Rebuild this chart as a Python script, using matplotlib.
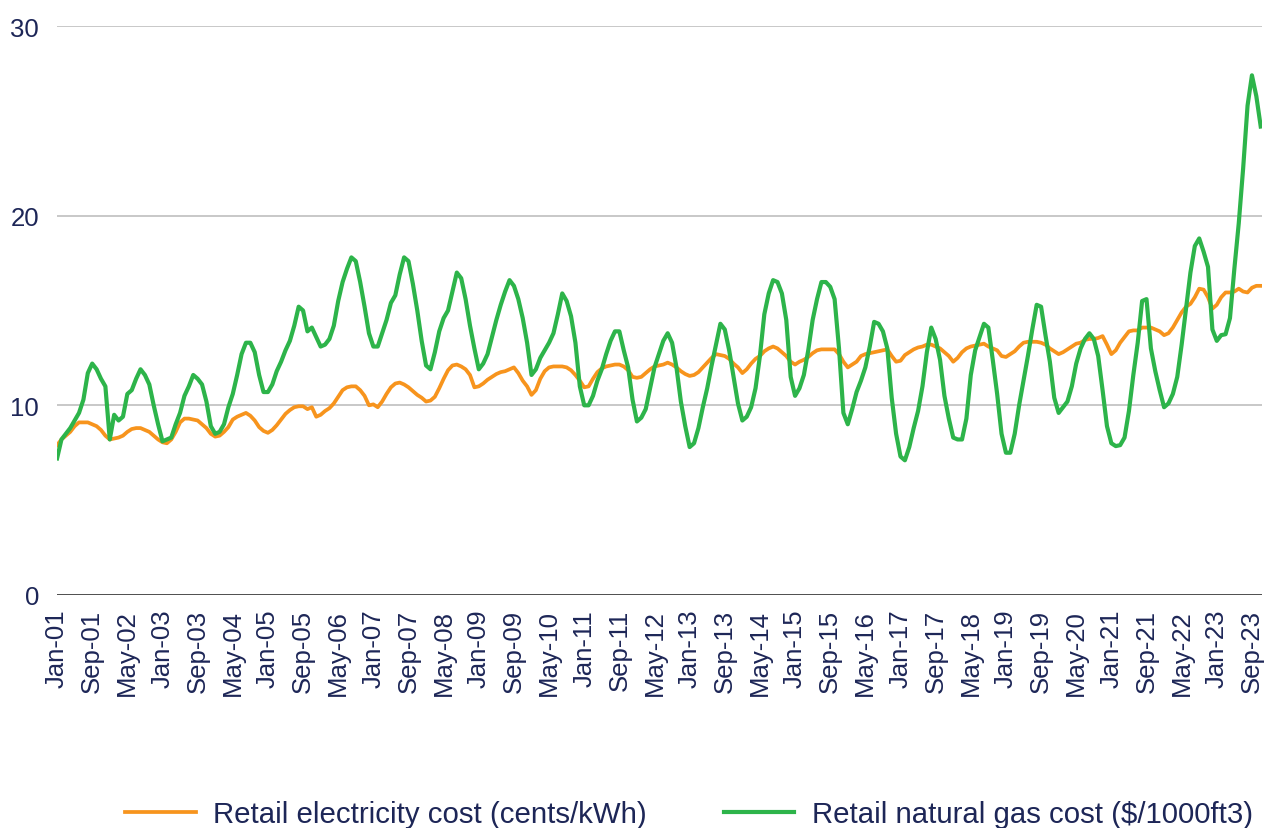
import numpy as np
import matplotlib
matplotlib.use("Agg")
import matplotlib.pyplot as plt

plt.rcParams['font.family'] = ['Liberation Sans', 'DejaVu Sans']

# Monthly values, Jan-01 .. Nov-23
electricity = [
    7.9, 8.2, 8.4, 8.6, 8.9, 9.1, 9.1, 9.1, 9.0, 8.9, 8.7, 8.4, 8.2, 8.25, 8.3, 8.4, 8.6, 8.75, 8.8, 8.8,
    8.7, 8.6, 8.4, 8.2, 8.05, 8.0, 8.2, 8.6, 9.1, 9.3, 9.3, 9.25, 9.2, 9.0, 8.8, 8.5, 8.35, 8.4, 8.6, 8.85,
    9.25, 9.4, 9.5, 9.6, 9.45, 9.2, 8.85, 8.65, 8.55, 8.7, 8.95, 9.25, 9.55, 9.75, 9.9, 9.95, 9.95, 9.8, 9.9, 9.4,
    9.5, 9.7, 9.85, 10.1, 10.45, 10.8, 10.95, 11.0, 11.0, 10.8, 10.5, 10.0, 10.05, 9.9, 10.2, 10.6, 10.95, 11.15, 11.2, 11.1,
    10.95, 10.75, 10.55, 10.4, 10.2, 10.25, 10.45, 10.9, 11.4, 11.85, 12.1, 12.15, 12.05, 11.9, 11.6, 10.95, 11.0, 11.15, 11.35, 11.5,
    11.65, 11.75, 11.8, 11.9, 12.0, 11.7, 11.3, 11.0, 10.55, 10.8, 11.4, 11.8, 12.0, 12.05, 12.05, 12.05, 12.0, 11.85, 11.6, 11.3,
    10.95, 11.0, 11.4, 11.75, 11.95, 12.05, 12.1, 12.15, 12.15, 12.05, 11.85, 11.5, 11.45, 11.5, 11.7, 11.9, 12.05, 12.1, 12.15, 12.25,
    12.15, 12.0, 11.8, 11.65, 11.55, 11.6, 11.75, 12.0, 12.25, 12.5, 12.7, 12.65, 12.6, 12.45, 12.2, 12.0, 11.7, 11.9, 12.2, 12.45,
    12.6, 12.85, 13.0, 13.1, 13.0, 12.8, 12.6, 12.3, 12.15, 12.3, 12.4, 12.55, 12.75, 12.9, 12.95, 12.95, 12.95, 12.95, 12.7, 12.3,
    12.0, 12.15, 12.3, 12.6, 12.7, 12.75, 12.8, 12.85, 12.9, 12.95, 12.6, 12.3, 12.35, 12.65, 12.8, 12.95, 13.05, 13.1, 13.2, 13.2,
    13.1, 13.0, 12.8, 12.6, 12.3, 12.5, 12.8, 13.0, 13.1, 13.15, 13.2, 13.25, 13.1, 13.0, 12.9, 12.6, 12.55, 12.7, 12.85, 13.1,
    13.3, 13.35, 13.35, 13.35, 13.3, 13.2, 13.0, 12.85, 12.7, 12.8, 12.95, 13.1, 13.25, 13.3, 13.45, 13.5, 13.5, 13.55, 13.65, 13.2,
    12.7, 12.9, 13.3, 13.6, 13.9, 13.95, 13.95, 14.1, 14.1, 14.1, 14.0, 13.9, 13.7, 13.8, 14.1, 14.5, 14.9, 15.2, 15.35, 15.7,
    16.15, 16.1, 15.7, 15.1, 15.3, 15.7, 15.95, 15.95, 16.0, 16.15, 16.0, 15.95, 16.2, 16.3, 16.3,
]

natural_gas = [
    7.2, 8.2, 8.5, 8.8, 9.2, 9.6, 10.3, 11.7, 12.2, 11.9, 11.4, 11.0, 8.2, 9.5, 9.2, 9.4, 10.6, 10.8, 11.4, 11.9,
    11.6, 11.1, 10.0, 9.0, 8.1, 8.2, 8.3, 9.0, 9.6, 10.5, 11.0, 11.6, 11.4, 11.1, 10.2, 8.9, 8.5, 8.6, 9.0, 9.9,
    10.6, 11.6, 12.7, 13.3, 13.3, 12.8, 11.6, 10.7, 10.7, 11.1, 11.8, 12.3, 12.9, 13.4, 14.2, 15.2, 15.0, 13.9, 14.1, 13.6,
    13.1, 13.2, 13.5, 14.2, 15.5, 16.5, 17.2, 17.8, 17.6, 16.5, 15.2, 13.8, 13.1, 13.1, 13.8, 14.5, 15.4, 15.8, 16.9, 17.8,
    17.6, 16.4, 15.0, 13.4, 12.1, 11.9, 12.8, 13.9, 14.6, 15.0, 16.0, 17.0, 16.7, 15.6, 14.2, 13.0, 11.9, 12.2, 12.7, 13.6,
    14.5, 15.3, 16.0, 16.6, 16.3, 15.6, 14.6, 13.3, 11.6, 11.9, 12.5, 12.9, 13.3, 13.8, 14.8, 15.9, 15.5, 14.7, 13.3, 11.0,
    10.0, 10.0, 10.5, 11.3, 11.9, 12.7, 13.4, 13.9, 13.9, 12.9, 12.0, 10.3, 9.15, 9.35, 9.8, 10.9, 12.0, 12.7, 13.4, 13.8,
    13.3, 12.0, 10.2, 8.9, 7.8, 8.0, 8.8, 9.9, 10.9, 12.1, 13.2, 14.3, 14.0, 12.9, 11.5, 10.1, 9.2, 9.4, 9.9, 10.9,
    12.6, 14.8, 15.9, 16.6, 16.5, 15.9, 14.5, 11.5, 10.5, 10.9, 11.6, 12.9, 14.5, 15.6, 16.5, 16.5, 16.25, 15.6, 13.0, 9.6,
    9.0, 9.8, 10.7, 11.3, 12.0, 13.1, 14.4, 14.3, 13.9, 13.0, 10.4, 8.5, 7.3, 7.1, 7.8, 8.8, 9.7, 11.0, 12.8, 14.1,
    13.5, 12.4, 10.5, 9.3, 8.3, 8.2, 8.2, 9.3, 11.6, 12.9, 13.6, 14.3, 14.1, 12.4, 10.6, 8.5, 7.5, 7.5, 8.5, 10.0,
    11.3, 12.6, 14.0, 15.3, 15.2, 13.7, 12.3, 10.4, 9.6, 9.9, 10.2, 11.0, 12.2, 13.0, 13.5, 13.8, 13.5, 12.6, 10.8, 8.9,
    8.0, 7.85, 7.9, 8.3, 9.7, 11.6, 13.3, 15.5, 15.6, 13.0, 11.8, 10.8, 9.9, 10.1, 10.6, 11.5, 13.2, 15.1, 17.0, 18.4,
    18.8, 18.1, 17.3, 14.0, 13.4, 13.7, 13.75, 14.6, 17.2, 19.6, 22.5, 25.8, 27.4, 26.3, 24.7,
]

tick_labels = [
    "Jan-01", "Sep-01", "May-02", "Jan-03", "Sep-03", "May-04", "Jan-05", "Sep-05", "May-06",
    "Jan-07", "Sep-07", "May-08", "Jan-09", "Sep-09", "May-10", "Jan-11", "Sep-11", "May-12",
    "Jan-13", "Sep-13", "May-14", "Jan-15", "Sep-15", "May-16", "Jan-17", "Sep-17", "May-18",
    "Jan-19", "Sep-19", "May-20", "Jan-21", "Sep-21", "May-22", "Jan-23", "Sep-23",
]
tick_step = 8  # months between labels

series_names = ["Retail electricity cost (cents/kWh)", "Retail natural gas cost ($/1000ft3)"]
y_ticks = [0, 10, 20, 30]

text_color = "#1d2657"
orange = "#f7941d"
green = "#2db44a"

fig = plt.figure(figsize=(12.68, 8.29), dpi=100)
ax = fig.add_axes([0.0450, 0.2811, 0.9503, 0.6863])

x = np.arange(len(electricity))
ax.plot(x, electricity, color=orange, lw=2.7, label=series_names[0], solid_joinstyle='round', zorder=3)
ax.plot(x, natural_gas, color=green, lw=3.0, label=series_names[1], solid_joinstyle='round', zorder=4)

ax.set_xlim(0, len(electricity) - 1 + 0.3)
ax.set_ylim(0, 30)
ax.set_yticks(y_ticks)
ax.set_yticklabels([str(v) for v in y_ticks], fontsize=18.5, color=text_color)
ax.set_xticks(np.arange(len(tick_labels)) * tick_step)
ax.set_xticklabels(tick_labels, rotation=90, fontsize=18.5, color=text_color)
ax.tick_params(axis='both', length=0)
ax.tick_params(axis='y', pad=13)
ax.tick_params(axis='x', pad=10)

for v in y_ticks[1:]:
    ax.axhline(v, color="#c4c4c4", lw=1.3, zorder=1)
ax.axhline(0, color="#404040", lw=1.3, zorder=2)

for s in ax.spines.values():
    s.set_visible(False)

fig.legend(loc='center', bbox_to_anchor=(0.5435, 0.017), ncol=2, frameon=False,
           fontsize=21.2, labelcolor=text_color, handlelength=2.4, handletextpad=0.6,
           columnspacing=2.6)

fig.savefig("out.png", dpi=100, facecolor="white")
